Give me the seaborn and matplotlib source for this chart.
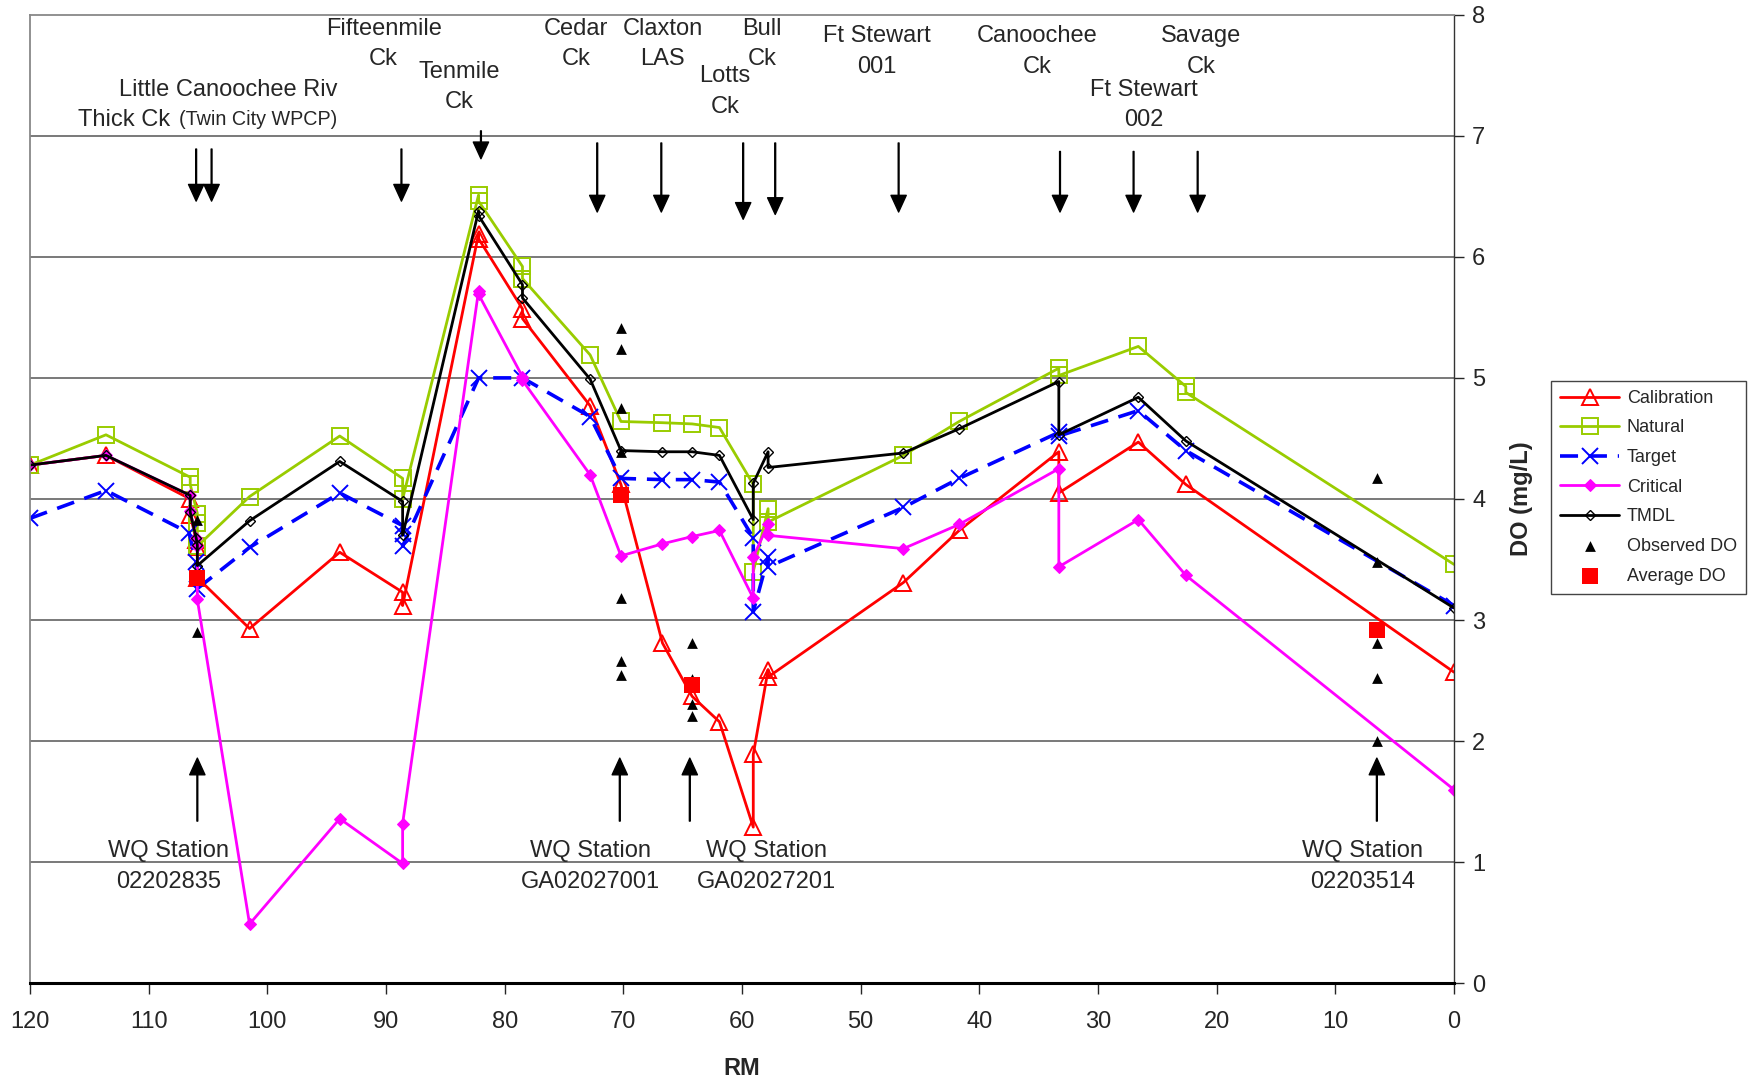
import numpy as np
import matplotlib
matplotlib.use("Agg")
import matplotlib.pyplot as plt
import seaborn as sns
import pandas as pd

# DO profile (mg/L) along the river, by scenario; RM repeats where the model has two nodes
calib_rm = [120, 113.6, 106.5, 106.5, 106.0, 105.9, 105.9, 101.5, 93.9, 88.6, 88.6, 82.2, 82.2, 78.5, 78.5,
            72.8, 70.2, 66.7, 64.2, 61.9, 59.05, 59.05, 57.8, 57.8, 46.4, 41.7, 33.3, 33.3, 26.6, 22.6, 0]
calib_do = [4.28, 4.36, 4.00, 3.87, 3.66, 3.60, 3.35, 2.93, 3.56, 3.23, 3.12, 6.19, 6.15, 5.57, 5.49,
            4.77, 4.12, 2.81, 2.37, 2.16, 1.29, 1.89, 2.59, 2.53, 3.31, 3.74, 4.39, 4.05, 4.47, 4.12, 2.57]

natural_rm = [120, 113.6, 106.5, 106.5, 105.9, 105.9, 105.9, 101.5, 93.9, 88.6, 88.6, 82.2, 82.2, 78.5, 78.5,
              72.8, 70.2, 66.7, 64.2, 61.9, 59.05, 59.05, 57.8, 57.8, 46.4, 41.7, 33.3, 33.3, 26.6, 22.6, 22.6, 0]
natural_do = [4.28, 4.53, 4.18, 4.12, 3.88, 3.80, 3.61, 4.02, 4.52, 4.17, 4.00, 6.51, 6.46, 5.92, 5.82,
              5.19, 4.64, 4.63, 4.62, 4.59, 4.12, 3.40, 3.92, 3.81, 4.36, 4.64, 5.08, 5.02, 5.26, 4.93, 4.88, 3.46]

target_rm = [120, 113.6, 106.6, 106.0, 105.9, 101.5, 93.9, 88.6, 88.6, 88.6, 82.2, 78.5, 72.8, 70.2,
             66.7, 64.2, 61.9, 59.05, 59.05, 57.8, 57.8, 46.4, 41.7, 33.3, 33.3, 26.6, 22.6, 0]
target_do = [3.84, 4.07, 3.72, 3.48, 3.26, 3.60, 4.05, 3.78, 3.71, 3.61, 5.00, 5.00, 4.68, 4.17,
             4.16, 4.16, 4.14, 3.68, 3.07, 3.52, 3.44, 3.93, 4.17, 4.55, 4.52, 4.73, 4.40, 3.12]

critical_rm = [120, 113.6, 106.5, 106.5, 106.0, 105.9, 105.9, 101.5, 93.9, 88.6, 88.6, 82.2, 82.2, 78.5, 78.5,
               72.8, 70.2, 66.7, 64.2, 61.9, 59.05, 59.05, 57.8, 57.8, 46.4, 41.7, 33.3, 33.3, 26.6, 22.6, 0]
critical_do = [4.28, 4.36, 4.03, 3.90, 3.68, 3.61, 3.17, 0.49, 1.36, 0.99, 1.32, 5.72, 5.69, 5.01, 4.98,
               4.20, 3.53, 3.63, 3.69, 3.74, 3.18, 3.52, 3.79, 3.70, 3.59, 3.79, 4.25, 3.44, 3.83, 3.37, 1.60]

tmdl_rm = [120, 113.6, 106.5, 106.5, 106.0, 105.9, 105.9, 101.5, 93.9, 88.6, 88.6, 82.2, 82.2, 78.5, 78.5,
           72.8, 70.2, 66.7, 64.2, 61.9, 59.05, 59.05, 57.8, 57.8, 46.4, 41.7, 33.3, 33.3, 26.6, 22.6, 0]
tmdl_do = [4.28, 4.36, 4.03, 3.89, 3.68, 3.62, 3.45, 3.82, 4.31, 3.98, 3.70, 6.38, 6.34, 5.77, 5.66,
           4.99, 4.40, 4.39, 4.39, 4.36, 3.83, 4.13, 4.39, 4.26, 4.38, 4.58, 4.97, 4.53, 4.84, 4.48, 3.10]

obs_rm = [105.9, 105.9, 70.2, 70.2, 70.2, 70.2, 70.2, 70.2, 70.2, 64.2, 64.2, 64.2, 64.2,
          6.5, 6.5, 6.5, 6.5, 6.5]
obs_do = [3.83, 2.90, 5.41, 5.24, 4.75, 4.39, 3.18, 2.66, 2.55, 2.81, 2.51, 2.31, 2.21,
          4.17, 3.48, 2.81, 2.52, 2.00]

avg_rm = [105.9, 70.2, 64.2, 6.5]
avg_do = [3.35, 4.03, 2.46, 2.92]

# sources entering the river (down arrows) and WQ stations (up arrows)
source_rm = [106.0, 104.7, 88.7, 82.0, 72.2, 66.8, 59.9, 57.2, 46.8, 33.2, 27.0, 21.6]
station_rm = [105.9, 70.3, 64.4, 6.5]

source_labels = [("Fifteenmile", "Ck"), ("Tenmile", "Ck"), ("Cedar", "Ck"), ("Claxton", "LAS"),
                 ("Lotts", "Ck"), ("Bull", "Ck"), ("Ft Stewart", "001"), ("Canoochee", "Ck"),
                 ("Savage", "Ck"), ("Ft Stewart", "002")]
station_labels = ["02202835", "GA02027001", "GA02027201", "02203514"]

# layout for the annotations (data coords)
source_top = [6.89, 6.89, 6.89, 7.04, 6.94, 6.94, 6.94, 6.94, 6.94, 6.87, 6.87, 6.87]
source_tip = [6.46, 6.46, 6.46, 6.81, 6.37, 6.37, 6.31, 6.35, 6.37, 6.37, 6.37, 6.37]
label_x = [90.2, 83.8, 74.0, 66.7, 61.45, 58.3, 48.6, 35.1, 21.3, 26.1]
label_y = [7.88, 7.53, 7.88, 7.88, 7.49, 7.88, 7.82, 7.82, 7.82, 7.38]
station_label_x = [108.3, 72.8, 57.9, 7.7]

sns.set_theme(style="white")
plt.rcParams['font.family'] = ['Liberation Sans', 'DejaVu Sans']

fig = plt.figure(figsize=(17.56, 10.83), dpi=100)
ax = fig.add_axes([0.0171, 0.0920, 0.8109, 0.8945])

for y in range(1, 8):
    ax.axhline(y, color='#555555', lw=1.1, zorder=0)

sns.lineplot(x=calib_rm, y=calib_do, sort=False, estimator=None, ax=ax, color='#FF0000', lw=2,
             marker='^', markersize=11, markerfacecolor='none', markeredgecolor='#FF0000',
             markeredgewidth=1.4, label='Calibration')
sns.lineplot(x=natural_rm, y=natural_do, sort=False, estimator=None, ax=ax, color='#99CC00', lw=2,
             marker='s', markersize=11, markerfacecolor='none', markeredgecolor='#99CC00',
             markeredgewidth=1.4, label='Natural')
sns.lineplot(x=target_rm, y=target_do, sort=False, estimator=None, ax=ax, color='#0000FF', lw=2.6,
             linestyle=(0, (5, 3)), marker='x', markersize=11, markeredgecolor='#0000FF',
             markeredgewidth=1.4, label='Target')
sns.lineplot(x=critical_rm, y=critical_do, sort=False, estimator=None, ax=ax, color='#FF00FF', lw=2,
             marker='D', markersize=6, markeredgecolor='#FF00FF', label='Critical')
sns.lineplot(x=tmdl_rm, y=tmdl_do, sort=False, estimator=None, ax=ax, color='black', lw=2,
             marker='D', markersize=5.5, markerfacecolor='none', markeredgecolor='black',
             markeredgewidth=1, label='TMDL')
sns.scatterplot(x=obs_rm, y=obs_do, ax=ax, marker='^', color='black', s=60, linewidth=0,
                label='Observed DO', zorder=5)
sns.scatterplot(x=avg_rm, y=avg_do, ax=ax, marker='s', color='#FF0000', s=140, linewidth=0,
                label='Average DO', zorder=6)

arrow_kw = dict(facecolor='black', edgecolor='black', width=0.6, headwidth=11, headlength=12, shrink=0)
for rm, top, tip in zip(source_rm, source_top, source_tip):
    ax.annotate('', xy=(rm, tip), xytext=(rm, top), arrowprops=arrow_kw)
for rm in station_rm:
    ax.annotate('', xy=(rm, 1.86), xytext=(rm, 1.34), arrowprops=arrow_kw)

fs = 17
for (l1, l2), x, y in zip(source_labels, label_x, label_y):
    ax.text(x, y, l1, ha='center', va='center', fontsize=fs)
    ax.text(x, y - 0.25, l2, ha='center', va='center', fontsize=fs)
ax.text(94.1, 7.38, "Little Canoochee Riv", ha='right', va='center', fontsize=fs)
ax.text(108.2, 7.13, "Thick Ck", ha='right', va='center', fontsize=fs)
ax.text(94.1, 7.13, "(Twin City WPCP)", ha='right', va='center', fontsize=14.2)

for x, lab in zip(station_label_x, station_labels):
    ax.text(x, 1.09, "WQ Station", ha='center', va='center', fontsize=fs)
    ax.text(x, 0.84, lab, ha='center', va='center', fontsize=fs)

ax.set_xlim(120, 0)
ax.set_ylim(0, 8)
ax.set_xticks(range(0, 121, 10))
ax.set_yticks(range(0, 9))
ax.yaxis.tick_right()
ax.yaxis.set_label_position('right')
ax.tick_params(axis='x', direction='out', length=8, width=1, pad=12, labelsize=fs, bottom=True)
ax.tick_params(axis='y', direction='out', length=7, width=1, pad=6, labelsize=fs, right=True, left=False)
ax.set_xlabel('RM', fontsize=fs, fontweight='bold', labelpad=17)
ax.set_ylabel('DO (mg/L)', fontsize=fs, fontweight='bold', labelpad=18)

ax.spines['left'].set_color('#888888')
ax.spines['left'].set_linewidth(1.3)
ax.spines['top'].set_color('#888888')
ax.spines['top'].set_linewidth(1.3)
ax.spines['right'].set_color('#333333')
ax.spines['right'].set_linewidth(1)
ax.spines['bottom'].set_color('black')
ax.spines['bottom'].set_linewidth(2.2)

handles, labels = ax.get_legend_handles_labels()
leg = ax.legend(handles, labels, loc='upper left', bbox_to_anchor=(1.068, 0.622), fontsize=13,
                frameon=True, fancybox=False, edgecolor='#444444', framealpha=1,
                handlelength=3.3, labelspacing=0.7, borderpad=0.5, handletextpad=0.4, borderaxespad=0)
leg.get_frame().set_linewidth(1)

plt.savefig("out.png", dpi=100)
